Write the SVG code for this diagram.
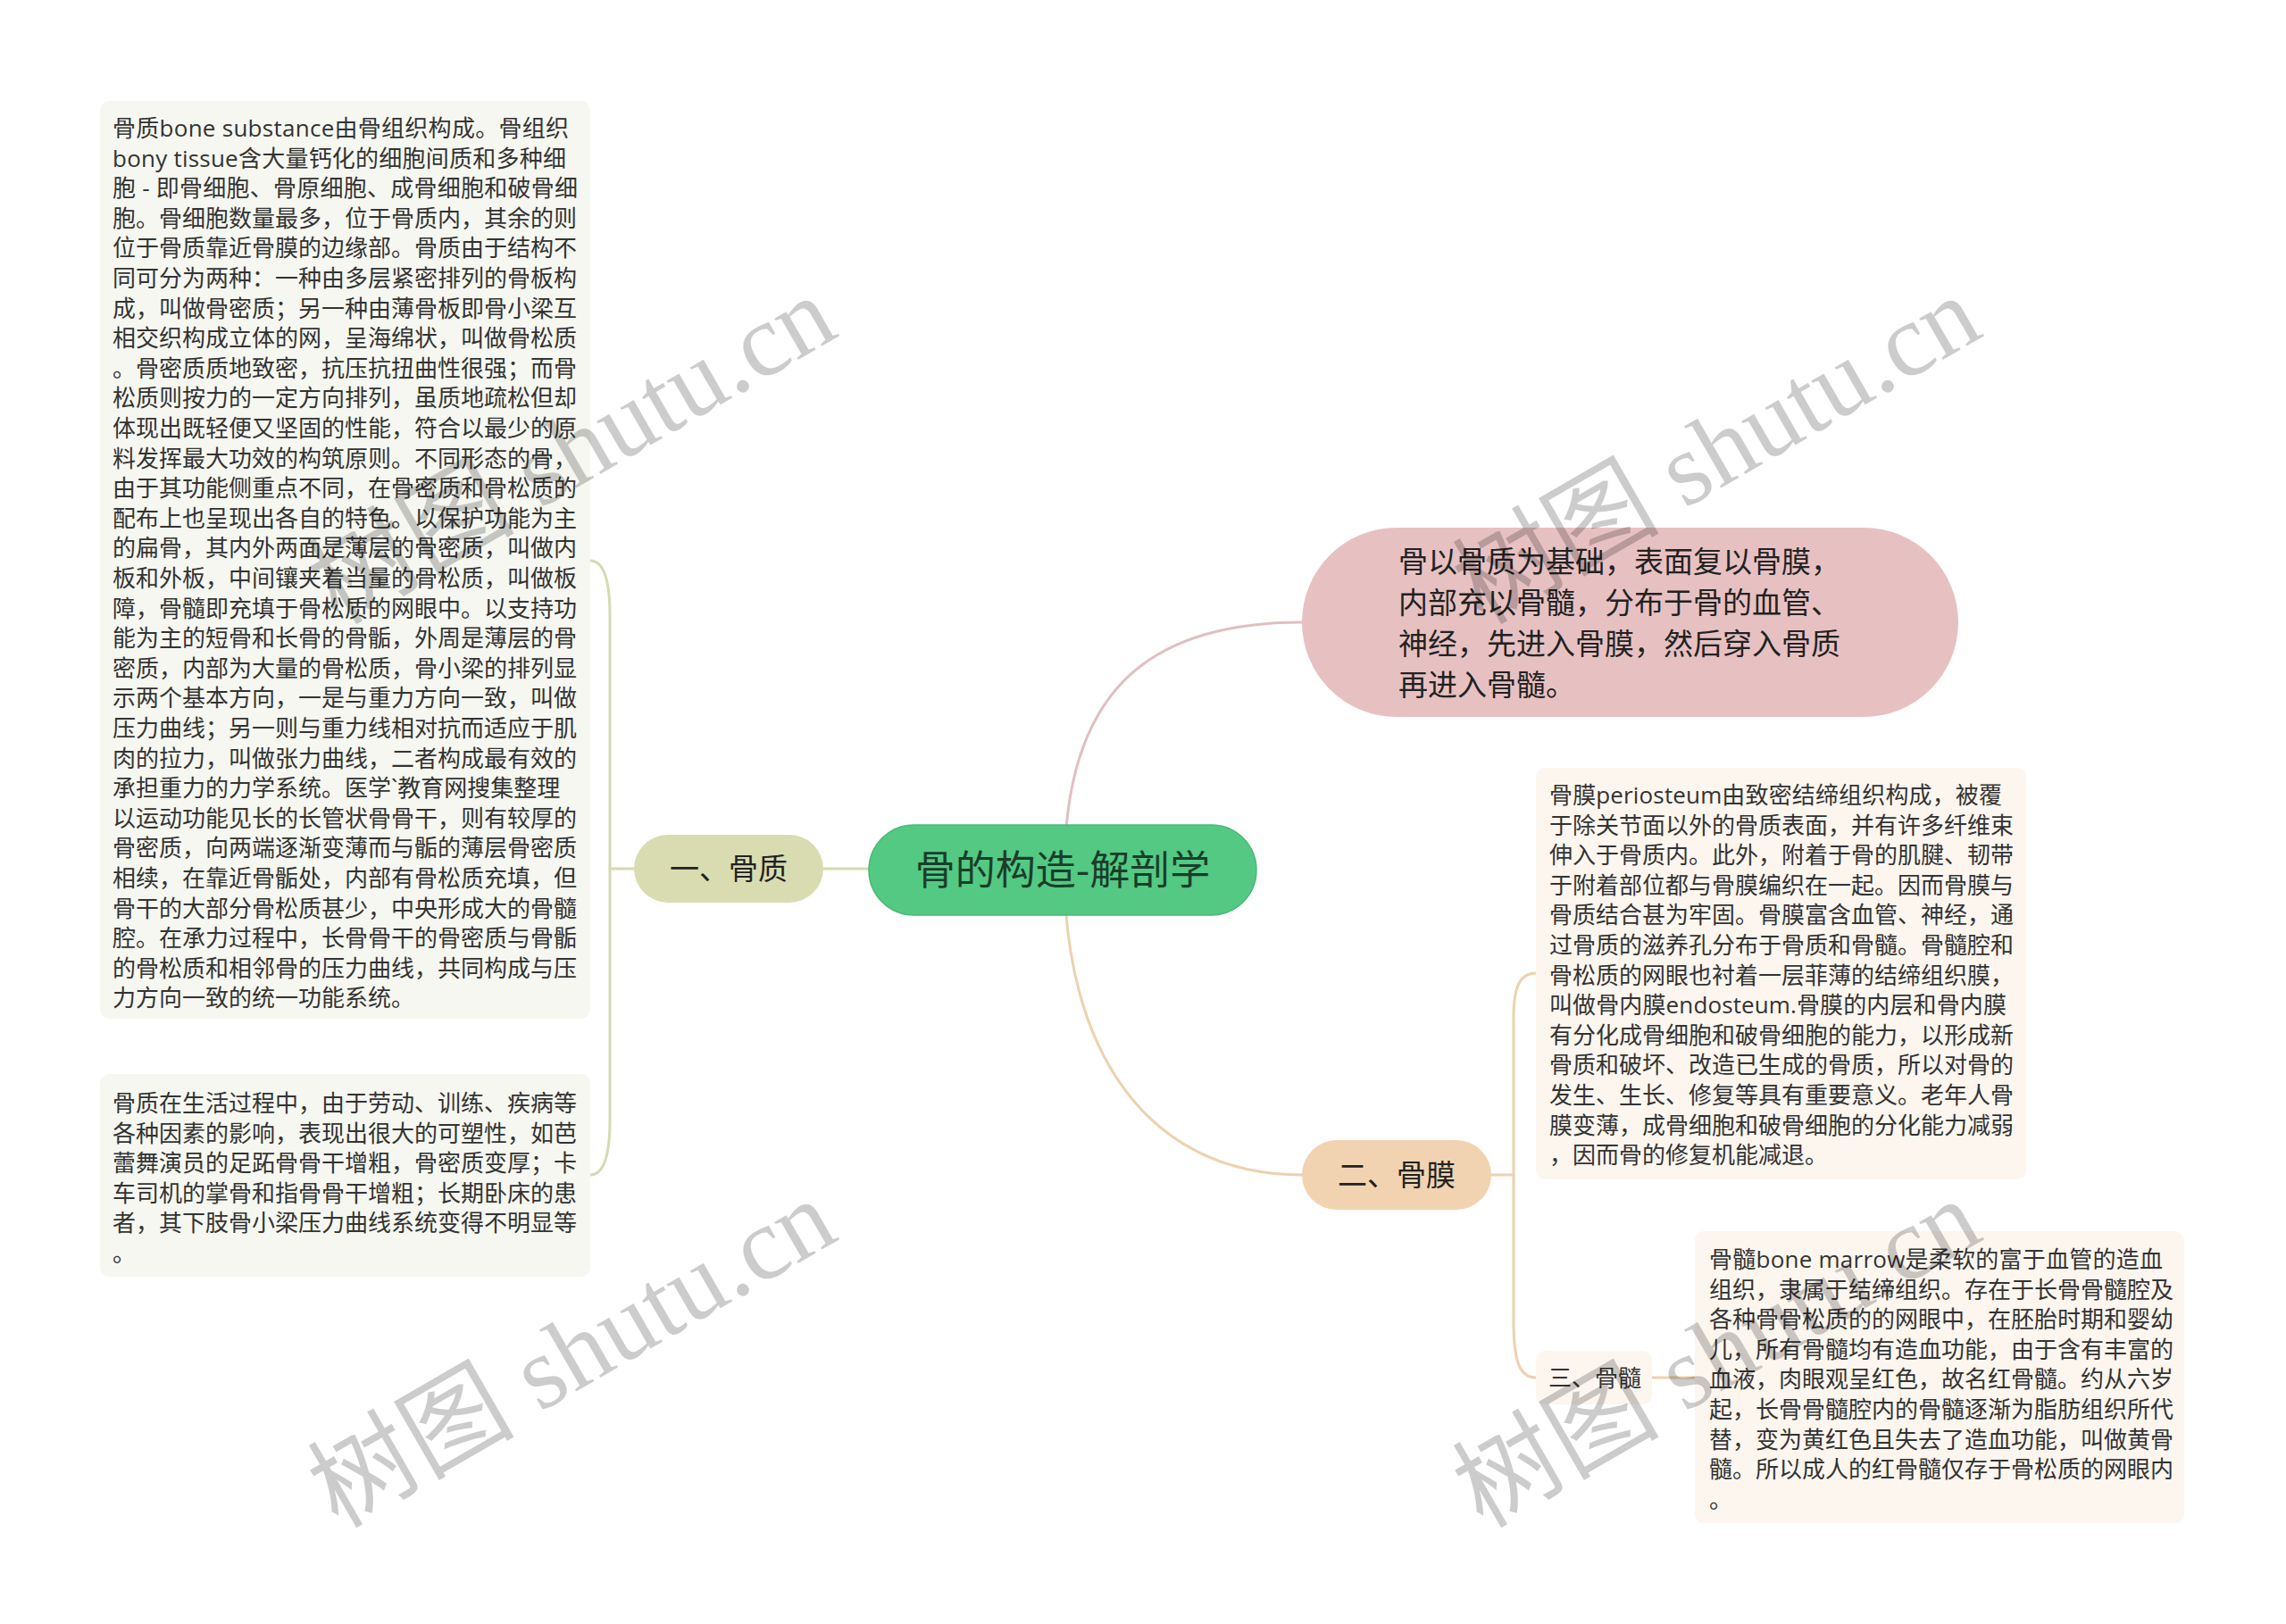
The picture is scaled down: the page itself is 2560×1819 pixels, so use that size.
<svg xmlns="http://www.w3.org/2000/svg" width="2560" height="1819" viewBox="0 0 2560 1819">
<style>
.t{font-family:"Open Sans","Noto Sans CJK SC",sans-serif;font-size:26px;fill:#333}
.lbl{font-family:"Noto Sans CJK SC",sans-serif;font-size:33px;fill:#222}
.c{fill:none;stroke-width:3;stroke-linecap:round}
.olive{stroke:#d6dab0}
.pink{stroke:#e0bfc1}
.peach{stroke:#edd1ae}
.wm{font-family:"Liberation Serif","Noto Sans CJK SC",serif;font-size:116px;fill:#000;fill-opacity:0.2}
</style>
<rect width="2560" height="1819" fill="#ffffff"/>
<g id="connectors">
<path class="c olive" d="M973,973 H922"/>
<path class="c olive" d="M710,973 H683 V690 C683,650 676,628 661,628"/>
<path class="c olive" d="M683,973 V1255 C683,1296 676,1316 661,1316"/>
<path class="c pink" d="M1192,975 C1192,780 1280,697 1458,697"/>
<path class="c peach" d="M1192,975 C1192,1170 1280,1316 1458,1316"/>
<path class="c peach" d="M1670,1316 H1695 V1140 C1695,1105 1702,1090 1720,1090"/>
<path class="c peach" d="M1695,1316 V1480 C1695,1525 1702,1543 1720,1543"/>
<path class="c peach" d="M1850,1543 H1898"/>
</g>
<g id="root">
<rect x="973" y="924" width="434" height="101" rx="50.5" fill="#53c983" stroke="#48b977" stroke-width="1.5"/>
<text x="1190" y="991" text-anchor="middle" font-family="Noto Sans CJK SC,sans-serif" font-size="45" fill="#1b3d2a">骨的构造-解剖学</text>
</g>
<g id="n-guzhi">
<rect x="710" y="935" width="212" height="76" rx="38" fill="#d9dcb1"/>
<text class="lbl" x="816" y="985" text-anchor="middle">一、骨质</text>
</g>
<g id="n-pink">
<rect x="1458" y="591" width="735" height="212" rx="106" fill="#e7c1c2"/>
<text class="lbl"><tspan x="1566" y="641">骨以骨质为基础，表面复以骨膜，</tspan><tspan x="1566" y="687">内部充以骨髓，分布于骨的血管、</tspan><tspan x="1566" y="733">神经，先进入骨膜，然后穿入骨质</tspan><tspan x="1566" y="779">再进入骨髓。</tspan></text>
</g>
<g id="n-gumo">
<rect x="1458" y="1277" width="212" height="78" rx="39" fill="#f2d3b1"/>
<text class="lbl" x="1564" y="1328" text-anchor="middle">二、骨膜</text>
</g>
<g id="box-guzhi-1">
<rect x="112" y="113" width="549" height="1028" rx="10" fill="#f6f7f0"/>
<text class="t" x="126" y="153" textLength="511" lengthAdjust="spacing">骨质bone substance由骨组织构成。骨组织</text>
<text class="t" x="126" y="186.6" textLength="508" lengthAdjust="spacing">bony tissue含大量钙化的细胞间质和多种细</text>
<text class="t" x="126" y="220.2" textLength="521" lengthAdjust="spacing">胞 - 即骨细胞、骨原细胞、成骨细胞和破骨细</text>
<text class="t"><tspan x="126" y="253.8">胞。骨细胞数量最多，位于骨质内，其余的则</tspan><tspan x="126" y="287.4">位于骨质靠近骨膜的边缘部。骨质由于结构不</tspan><tspan x="126" y="321">同可分为两种：一种由多层紧密排列的骨板构</tspan><tspan x="126" y="354.6">成，叫做骨密质；另一种由薄骨板即骨小梁互</tspan><tspan x="126" y="388.2">相交织构成立体的网，呈海绵状，叫做骨松质</tspan><tspan x="126" y="421.8">。骨密质质地致密，抗压抗扭曲性很强；而骨</tspan><tspan x="126" y="455.4">松质则按力的一定方向排列，虽质地疏松但却</tspan><tspan x="126" y="489">体现出既轻便又坚固的性能，符合以最少的原</tspan><tspan x="126" y="522.6">料发挥最大功效的构筑原则。不同形态的骨，</tspan><tspan x="126" y="556.2">由于其功能侧重点不同，在骨密质和骨松质的</tspan><tspan x="126" y="589.8">配布上也呈现出各自的特色。以保护功能为主</tspan><tspan x="126" y="623.4">的扁骨，其内外两面是薄层的骨密质，叫做内</tspan><tspan x="126" y="657">板和外板，中间镶夹着当量的骨松质，叫做板</tspan><tspan x="126" y="690.6">障，骨髓即充填于骨松质的网眼中。以支持功</tspan><tspan x="126" y="724.2">能为主的短骨和长骨的骨骺，外周是薄层的骨</tspan><tspan x="126" y="757.8">密质，内部为大量的骨松质，骨小梁的排列显</tspan><tspan x="126" y="791.4">示两个基本方向，一是与重力方向一致，叫做</tspan><tspan x="126" y="825">压力曲线；另一则与重力线相对抗而适应于肌</tspan><tspan x="126" y="858.6">肉的拉力，叫做张力曲线，二者构成最有效的</tspan><tspan x="126" y="892.2">承担重力的力学系统。医学`教育网搜集整理</tspan><tspan x="126" y="925.8">以运动功能见长的长管状骨骨干，则有较厚的</tspan><tspan x="126" y="959.4">骨密质，向两端逐渐变薄而与骺的薄层骨密质</tspan><tspan x="126" y="993">相续，在靠近骨骺处，内部有骨松质充填，但</tspan><tspan x="126" y="1026.6">骨干的大部分骨松质甚少，中央形成大的骨髓</tspan><tspan x="126" y="1060.2">腔。在承力过程中，长骨骨干的骨密质与骨骺</tspan><tspan x="126" y="1093.8">的骨松质和相邻骨的压力曲线，共同构成与压</tspan><tspan x="126" y="1127.4">力方向一致的统一功能系统。</tspan></text>
</g>
<g id="box-guzhi-2">
<rect x="112" y="1203" width="549" height="227" rx="10" fill="#f6f7f0"/>
<text class="t"><tspan x="126" y="1245">骨质在生活过程中，由于劳动、训练、疾病等</tspan><tspan x="126" y="1278.6">各种因素的影响，表现出很大的可塑性，如芭</tspan><tspan x="126" y="1312.2">蕾舞演员的足跖骨骨干增粗，骨密质变厚；卡</tspan><tspan x="126" y="1345.8">车司机的掌骨和指骨骨干增粗；长期卧床的患</tspan><tspan x="126" y="1379.4">者，其下肢骨小梁压力曲线系统变得不明显等</tspan><tspan x="126" y="1413">。</tspan></text>
</g>
<g id="box-gumo">
<rect x="1720" y="860" width="549" height="461" rx="10" fill="#fcf6ef"/>
<text class="t" x="1735" y="900" textLength="507" lengthAdjust="spacing">骨膜periosteum由致密结缔组织构成，被覆</text>
<text class="t"><tspan x="1735" y="933.6">于除关节面以外的骨质表面，并有许多纤维束</tspan><tspan x="1735" y="967.2">伸入于骨质内。此外，附着于骨的肌腱、韧带</tspan><tspan x="1735" y="1000.8">于附着部位都与骨膜编织在一起。因而骨膜与</tspan><tspan x="1735" y="1034.4">骨质结合甚为牢固。骨膜富含血管、神经，通</tspan><tspan x="1735" y="1068">过骨质的滋养孔分布于骨质和骨髓。骨髓腔和</tspan><tspan x="1735" y="1101.6">骨松质的网眼也衬着一层菲薄的结缔组织膜，</tspan></text>
<text class="t" x="1735" y="1135.2" textLength="512" lengthAdjust="spacing">叫做骨内膜endosteum.骨膜的内层和骨内膜</text>
<text class="t"><tspan x="1735" y="1168.8">有分化成骨细胞和破骨细胞的能力，以形成新</tspan><tspan x="1735" y="1202.4">骨质和破坏、改造已生成的骨质，所以对骨的</tspan><tspan x="1735" y="1236">发生、生长、修复等具有重要意义。老年人骨</tspan><tspan x="1735" y="1269.6">膜变薄，成骨细胞和破骨细胞的分化能力减弱</tspan><tspan x="1735" y="1303.2">，因而骨的修复机能减退。</tspan></text>
</g>
<g id="n-gusui">
<rect x="1720" y="1513" width="130" height="60" rx="10" fill="#fcf6ef"/>
<text class="t" x="1734" y="1553">三、骨髓</text>
</g>
<g id="box-gusui">
<rect x="1898" y="1379" width="548" height="327" rx="10" fill="#fcf6ef"/>
<text class="t" x="1914" y="1420" textLength="508" lengthAdjust="spacing">骨髓bone marrow是柔软的富于血管的造血</text>
<text class="t"><tspan x="1914" y="1453.6">组织，隶属于结缔组织。存在于长骨骨髓腔及</tspan><tspan x="1914" y="1487.2">各种骨骨松质的的网眼中，在胚胎时期和婴幼</tspan><tspan x="1914" y="1520.8">儿，所有骨髓均有造血功能，由于含有丰富的</tspan><tspan x="1914" y="1554.4">血液，肉眼观呈红色，故名红骨髓。约从六岁</tspan><tspan x="1914" y="1588">起，长骨骨髓腔内的骨髓逐渐为脂肪组织所代</tspan><tspan x="1914" y="1621.6">替，变为黄红色且失去了造血功能，叫做黄骨</tspan><tspan x="1914" y="1655.2">髓。所以成人的红骨髓仅存于骨松质的网眼内</tspan><tspan x="1914" y="1688.8">。</tspan></text>
</g>
<g id="watermarks" class="wm">
<text transform="translate(660,1550) rotate(-30)" text-anchor="middle">树图 shutu.cn</text>
<text transform="translate(660,538) rotate(-30)" text-anchor="middle">树图 shutu.cn</text>
<text transform="translate(1942,538) rotate(-30)" text-anchor="middle">树图 shutu.cn</text>
<text transform="translate(1942,1550) rotate(-30)" text-anchor="middle">树图 shutu.cn</text>
</g>
</svg>
